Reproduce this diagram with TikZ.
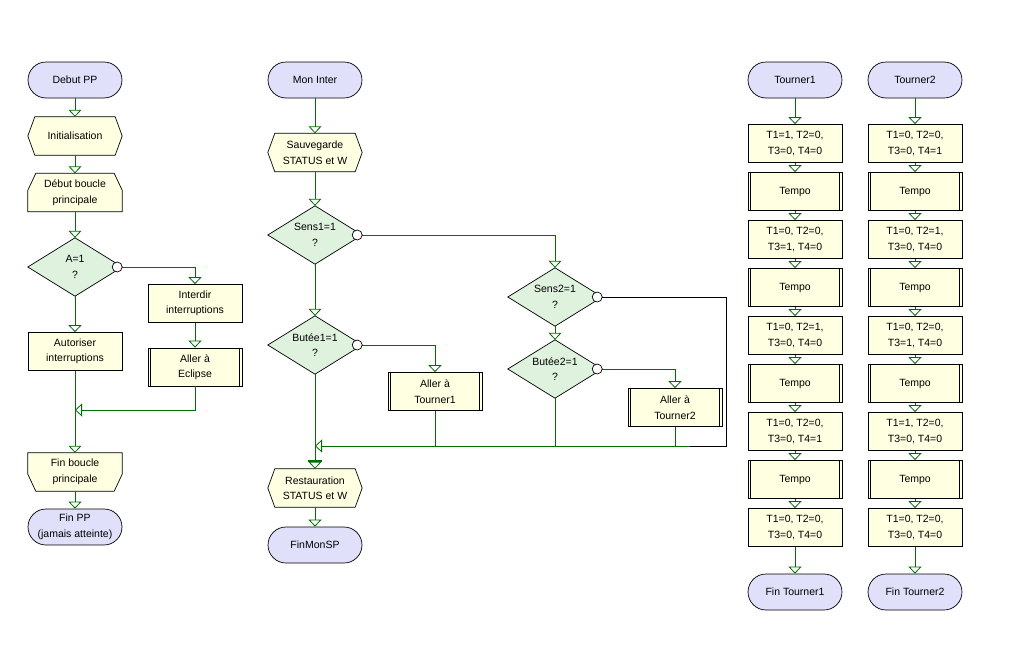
\documentclass[tikz,border=0pt]{standalone}
\usepackage{fontspec}
\setmainfont{Liberation Sans}
\usetikzlibrary{arrows.meta,shapes.misc,backgrounds}
\definecolor{termfill}{RGB}{224,224,250}
\definecolor{boxfill}{RGB}{255,255,225}
\definecolor{decfill}{RGB}{222,242,222}
\definecolor{flow}{RGB}{0,110,0}
\tikzset{
  base/.style={inner sep=0pt, align=center, font=\fontsize{10.5}{15.5}\selectfont, minimum width=94pt, text=black},
  term/.style={base, rounded rectangle, draw=black, line width=0.7pt, fill=termfill, minimum height=36pt},
  proc/.style={base, rectangle, draw=black, line width=0.7pt, fill=boxfill, minimum height=38pt},
  free/.style={base, minimum height=38pt},
  dec/.style={base, minimum height=58pt},
  outline/.style={draw=black, line width=0.7pt},
  flowline/.style={draw=flow, line width=0.8pt},
  arr/.style={flowline, -{Triangle[open,length=7pt,width=13pt]}},
}
\newcommand\hexa[1]{\filldraw[outline, fill=boxfill] (#1.west) -- ([xshift=7pt]#1.north west) -- ([xshift=-7pt]#1.north east) -- (#1.east) -- ([xshift=-7pt]#1.south east) -- ([xshift=7pt]#1.south west) -- cycle;}
\newcommand\loopstart[1]{\filldraw[outline, fill=boxfill] (#1.south west) -- ([yshift=-17pt]#1.north west) -- ([xshift=8pt]#1.north west) -- ([xshift=-8pt]#1.north east) -- ([yshift=-17pt]#1.north east) -- (#1.south east) -- cycle;}
\newcommand\loopend[1]{\filldraw[outline, fill=boxfill] (#1.north west) -- ([yshift=17pt]#1.south west) -- ([xshift=8pt]#1.south west) -- ([xshift=-8pt]#1.south east) -- ([yshift=17pt]#1.south east) -- (#1.north east) -- cycle;}
\newcommand\decision[1]{\filldraw[outline, fill=decfill] (#1.west) -- (#1.north) -- (#1.east) -- (#1.south) -- cycle;}
\newcommand\nodot[1]{\filldraw[draw=black, line width=0.7pt, fill=white] ([xshift=-5pt]#1.east) circle (5pt);}
\newcommand\subbars[1]{\draw[outline] ([xshift=3pt]#1.north west) -- ([xshift=3pt]#1.south west) ([xshift=-3pt]#1.north east) -- ([xshift=-3pt]#1.south east);}
\begin{document}
\begin{tikzpicture}[x=1pt,y=-1pt]
\useasboundingbox (0,0) rectangle (1019,664);
% ---------- left column
\node[term] (debut) at (75,80) {Debut PP};
\node[free] (init) at (75,136) {Initialisation};
\node[free] (dbp) at (75,192.5) {Début boucle\\principale};
\node[dec] (A) at (75,267) {A=1\\?};
\node[proc] (autor) at (75,351.5) {Autoriser\\interruptions};
\node[proc] (interdir) at (195,303.5) {Interdir\\interruptions};
\node[proc] (eclipse) at (195,367) {Aller à\\Eclipse};
\node[free] (finb) at (75,472) {Fin boucle\\principale};
\node[term] (finpp) at (75,527) {Fin PP\\(jamais atteinte)};
% ---------- middle
\node[term] (moninter) at (315,80) {Mon Inter};
\node[free] (sauv) at (315,152.5) {Sauvegarde\\STATUS et W};
\node[dec] (sens1) at (315,235) {Sens1=1\\?};
\node[dec] (butee1) at (315,345) {Butée1=1\\?};
\node[proc] (t1call) at (435,391.5) {Aller à\\Tourner1};
\node[dec] (sens2) at (555,297) {Sens2=1\\?};
\node[dec] (butee2) at (555,369) {Butée2=1\\?};
\node[proc] (t2call) at (675,407.5) {Aller à\\Tourner2};
\node[free] (rest) at (315,488) {Restauration\\STATUS et W};
\node[term] (finmon) at (315,545) {FinMonSP};
% ---------- right columns
\node[term] (a0) at (795,80) {Tourner1};
\node[proc] (a1) at (795,143.5) {T1=1, T2=0,\\T3=0, T4=0};
\node[proc] (a2) at (795,191.5) {Tempo};
\node[proc] (a3) at (795,239.5) {T1=0, T2=0,\\T3=1, T4=0};
\node[proc] (a4) at (795,287.5) {Tempo};
\node[proc] (a5) at (795,335.5) {T1=0, T2=1,\\T3=0, T4=0};
\node[proc] (a6) at (795,383.5) {Tempo};
\node[proc] (a7) at (795,431.5) {T1=0, T2=0,\\T3=0, T4=1};
\node[proc] (a8) at (795,479.5) {Tempo};
\node[proc] (a9) at (795,527.5) {T1=0, T2=0,\\T3=0, T4=0};
\node[term] (a10) at (795,592) {Fin Tourner1};
\node[term] (b0) at (915,80) {Tourner2};
\node[proc] (b1) at (915,143.5) {T1=0, T2=0,\\T3=0, T4=1};
\node[proc] (b2) at (915,191.5) {Tempo};
\node[proc] (b3) at (915,239.5) {T1=0, T2=1,\\T3=0, T4=0};
\node[proc] (b4) at (915,287.5) {Tempo};
\node[proc] (b5) at (915,335.5) {T1=0, T2=0,\\T3=1, T4=0};
\node[proc] (b6) at (915,383.5) {Tempo};
\node[proc] (b7) at (915,431.5) {T1=1, T2=0,\\T3=0, T4=0};
\node[proc] (b8) at (915,479.5) {Tempo};
\node[proc] (b9) at (915,527.5) {T1=0, T2=0,\\T3=0, T4=0};
\node[term] (b10) at (915,592) {Fin Tourner2};
% ---------- shapes behind the texts
\begin{scope}[on background layer]
\fill[white] (0,0) rectangle (1019,664);
\hexa{init}
\loopstart{dbp}
\decision{A}
\loopend{finb}
\hexa{sauv}
\decision{sens1}
\decision{butee1}
\decision{sens2}
\decision{butee2}
\hexa{rest}
\end{scope}
\subbars{eclipse}
\subbars{t1call}
\subbars{t2call}
\foreach \n in {a2,a4,a6,a8,b2,b4,b6,b8} {\subbars{\n}}
% ---------- connectors, left
\draw[arr] (debut.south) -- (init.north);
\draw[arr] (init.south) -- (dbp.north);
\draw[arr] (dbp.south) -- (A.north);
\draw[arr] (A.east) -| (interdir.north);
\draw[arr] (A.south) -- (autor.north);
\draw[arr] (interdir.south) -- (eclipse.north);
\coordinate (m1) at (75,410);
\draw[arr] (eclipse.south) |- (m1);
\draw[arr] (autor.south) -- (finb.north);
\draw[arr] (finb.south) -- (finpp.north);
% ---------- connectors, middle
\draw[arr] (moninter.south) -- (sauv.north);
\draw[arr] (sauv.south) -- (sens1.north);
\draw[arr] (sens1.east) -| (sens2.north);
\draw[arr] (sens1.south) -- (butee1.north);
\draw[arr] (butee1.east) -| (t1call.north);
\draw[arr] (butee1.south) -- (rest.north);
\draw[flow, line width=2.4pt] ([xshift=-7pt,yshift=8pt]rest.north) -- ([xshift=7pt,yshift=8pt]rest.north);
\coordinate (m2) at (315,446);
\coordinate (rj) at (726,446);
\coordinate (bj) at (690,446);
\draw[arr] (t1call.south) |- (m2);
\draw[flowline] (bj) -- (t1call.south |- m2);
\draw[arr] (sens2.south) -- (butee2.north);
\draw[arr] (butee2.east) -| (t2call.north);
\draw[flowline] (butee2.south) -- (butee2.south |- m2);
\draw[flowline] (t2call.south) -- (t2call.south |- m2);
\draw[black, line width=0.8pt] (sens2.east) -| (rj) -- (bj);
\draw[arr] (rest.south) -- (finmon.north);
% ---------- connectors, right
\foreach \c in {a,b} {
  \foreach \i [count=\j] in {0,...,9} {
    \draw[arr] (\c\i.south) -- (\c\j.north);
  }
}
% ---------- "no" circles
\nodot{A}
\nodot{sens1}
\nodot{butee1}
\nodot{sens2}
\nodot{butee2}
\end{tikzpicture}
\end{document}
